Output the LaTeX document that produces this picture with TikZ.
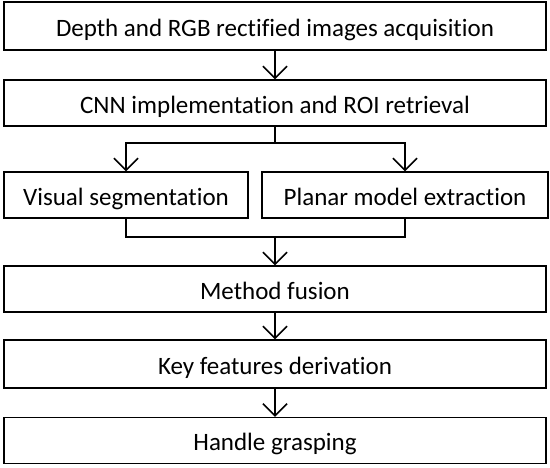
\documentclass[tikz,border=0pt]{standalone}
\usepackage{fontspec}
\setmainfont{Carlito}[Ligatures={NoCommon}]
\usepackage{tikz}
\usetikzlibrary{arrows.meta,positioning}
\tikzset{
  procbox/.style={ draw, line width=1.5pt, rectangle, minimum width=542pt, minimum height=46pt, text height=21pt, text depth=1pt, inner sep=2pt, font=\fontsize{25}{28}\selectfont }
}
\tikzset{
  flow/.style={ line width=1.5pt, -{Straight Barb[length=12pt,width=24pt,line width=1.5pt]} }
}
\begin{document}
\begin{tikzpicture}[x=1pt, y=-1pt]
      \useasboundingbox (0,0) rectangle (550,467);
      \node[procbox, minimum height=48pt] (acq) at (275, 26) {Depth and RGB rectified images acquisition};
      \node[procbox] (cnn) at (275, 103) {CNN implementation and ROI retrieval};
      \node[procbox, minimum width=244pt] (vis) at (126, 195) {Visual segmentation};
      \node[procbox, minimum width=286pt] (plan) at (405, 195) {Planar model extraction};
      \node[procbox] (fus) at (275, 289) {Method fusion};
      \node[procbox, minimum height=48pt] (key) at (275, 364) {Key features derivation};
      \node[procbox] (grasp) at (275, 440.5) {Handle grasping};
      \coordinate (split) at (275, 143);
      \coordinate (merge) at (275, 237);
      \draw[flow] (acq) -- (cnn);
      \draw[line width=1.5pt] (cnn) -- (split);
      \draw[flow] (split) -| (vis.north);
      \draw[flow] (split) -| (plan.north);
      \draw[line width=1.5pt] (vis.south) |- (merge);
      \draw[line width=1.5pt] (plan.south) |- (merge);
      \draw[flow] (merge) -- (fus);
      \draw[flow] (fus) -- (key);
      \draw[flow] (key) -- (grasp);
    \end{tikzpicture}
\end{document}
